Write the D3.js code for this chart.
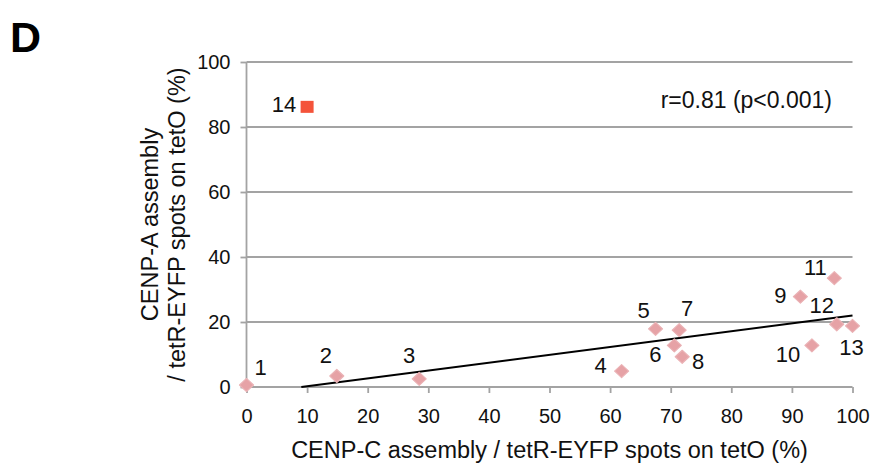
<!DOCTYPE html>
<html>
<head>
<meta charset="utf-8">
<script src="https://cdn.jsdelivr.net/npm/d3@7"></script>
<style>
  html, body { margin: 0; padding: 0; background: #fff; }
  svg { display: block; font-family: "Liberation Sans", Arial, Helvetica, sans-serif; }
</style>
</head>
<body>
<svg id="chart" width="877" height="474"></svg>
<script>
// Kinetochore recruitment per tetO construct (%)
const pointIds   = [1, 2, 3, 4, 5, 6, 7, 8, 9, 10, 11, 12, 13, 14];
const cenpC      = [0, 14.9, 28.5, 61.9, 67.5, 70.6, 71.4, 71.9, 91.4, 93.3, 97.0, 97.4, 100, 10.0];
const cenpA      = [0.6, 3.4, 2.5, 4.9, 17.9, 12.8, 17.5, 9.3, 27.8, 12.8, 33.5, 19.3, 18.8, 86.2];
const outlierIds = [14];   // excluded from the fit, drawn as a square
const xTicks = [0, 10, 20, 30, 40, 50, 60, 70, 80, 90, 100];
const yTicks = [0, 20, 40, 60, 80, 100];
const statLabel = "r=0.81 (p<0.001)";

// label placement around each marker (px)
const labelOffset = {
  1: [14, -10], 2: [-11, -13], 3: [-10, -16], 4: [-21, 2], 5: [-12, -11],
  6: [-19, 17], 7: [8, -14], 8: [16, 12], 9: [-20, 6], 10: [-24, 17],
  11: [-19, -3], 12: [-15, -11], 13: [-1, 29], 14: [-23, 5]
};

const points = pointIds.map((id, i) => ({ id, x: cenpC[i], y: cenpA[i], outlier: outlierIds.includes(id) }));

const svg = d3.select("#chart");
const x = d3.scaleLinear().domain([0, 100]).range([246.5, 852.5]);
const y = d3.scaleLinear().domain([0, 100]).range([387, 62]);
const grey = "#a3a3a3";

// horizontal gridlines
svg.append("g").selectAll("line")
  .data(yTicks.filter(t => t > 0))
  .join("line")
  .attr("x1", x(0)).attr("x2", x(100))
  .attr("y1", d => y(d)).attr("y2", d => y(d))
  .attr("stroke", grey).attr("stroke-width", 1.8);

// axes
const xAxis = d3.axisBottom(x).tickValues(xTicks).tickSize(6).tickPadding(15.5);
const yAxis = d3.axisLeft(y).tickValues(yTicks).tickSize(6).tickPadding(10);

const gx = svg.append("g").attr("transform", `translate(0,${y(0)})`).call(xAxis);
const gy = svg.append("g").attr("transform", `translate(${x(0)},0)`).call(yAxis);
[gx, gy].forEach(g => {
  g.select(".domain").attr("stroke", grey).attr("stroke-width", 1.8);
  g.selectAll(".tick line").attr("stroke", grey).attr("stroke-width", 1.8);
  g.selectAll(".tick text").attr("fill", "#111").style("font-size", "20px")
    .style("font-family", "'Liberation Sans', Arial, sans-serif");
});
gx.select(".domain").attr("d", `M${x(0)},0H${x(100)}`);
gy.select(".domain").attr("d", `M0,${y(0)}V${y(100)}`);

// least-squares fit over the non-outlier constructs
const fitPts = points.filter(p => !p.outlier);
const mx = d3.mean(fitPts, p => p.x), my = d3.mean(fitPts, p => p.y);
const slope = d3.sum(fitPts, p => (p.x - mx) * (p.y - my)) / d3.sum(fitPts, p => (p.x - mx) ** 2);
const intercept = my - slope * mx;
const xStart = Math.max(0, -intercept / slope);
svg.append("line")
  .attr("x1", x(xStart)).attr("y1", y(slope * xStart + intercept))
  .attr("x2", x(100)).attr("y2", y(slope * 100 + intercept))
  .attr("stroke", "#000").attr("stroke-width", 2);

// markers
const diamond = "M0,-6.5L7,0L0,6.5L-7,0Z";
svg.append("g").selectAll("path")
  .data(points.filter(p => !p.outlier))
  .join("path")
  .attr("transform", p => `translate(${x(p.x)},${y(p.y)})`)
  .attr("d", diamond)
  .attr("fill", "#e6a2a6")
  .attr("stroke", "#eab2b5").attr("stroke-width", 1.2).attr("stroke-linejoin", "round");

svg.append("g").selectAll("rect")
  .data(points.filter(p => p.outlier))
  .join("rect")
  .attr("x", p => x(p.x) - 6.5).attr("y", p => y(p.y) - 6)
  .attr("width", 13).attr("height", 12)
  .attr("fill", "#f4533a");

// point numbers
svg.append("g").selectAll("text")
  .data(points)
  .join("text")
  .attr("x", p => x(p.x) + labelOffset[p.id][0])
  .attr("y", p => y(p.y) + labelOffset[p.id][1])
  .attr("text-anchor", "middle")
  .style("font-size", "22px").attr("fill", "#111")
  .text(p => p.id);

// correlation note
svg.append("text")
  .attr("x", 832).attr("y", 108).attr("text-anchor", "end")
  .style("font-size", "23px").attr("fill", "#111")
  .text(statLabel);

// axis titles
svg.append("text")
  .attr("x", (x(0) + x(100)) / 2).attr("y", 458).attr("text-anchor", "middle")
  .style("font-size", "23.5px").attr("fill", "#111")
  .text("CENP-C assembly / tetR-EYFP spots on tetO (%)");

const yTitle = svg.append("text")
  .attr("transform", `translate(0,${(y(0) + y(100)) / 2}) rotate(-90)`)
  .attr("text-anchor", "middle")
  .style("font-size", "23.5px").attr("fill", "#111");
yTitle.append("tspan").attr("x", 0).attr("y", 158).text("CENP-A assembly");
yTitle.append("tspan").attr("x", 0).attr("y", 185).text("/ tetR-EYFP spots on tetO (%)");

// panel letter
svg.append("text")
  .attr("x", 10).attr("y", 52)
  .style("font-size", "43px").style("font-weight", "bold").attr("fill", "#000")
  .text("D");
</script>
</body>
</html>
